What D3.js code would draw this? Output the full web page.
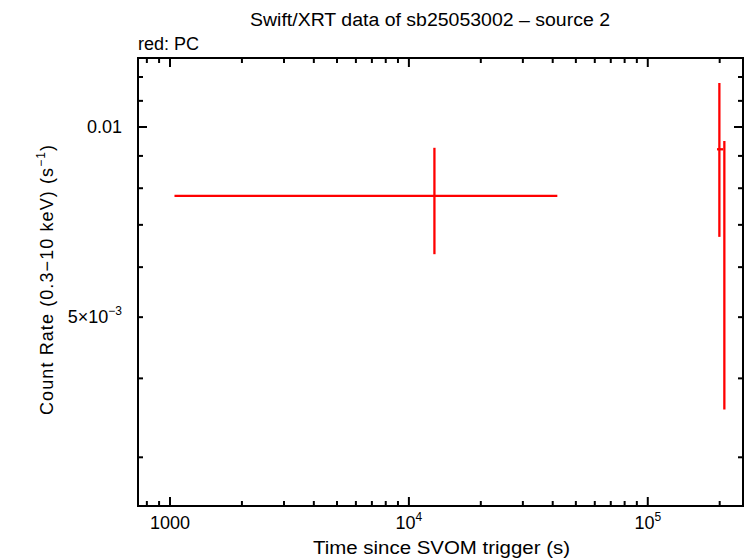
<!DOCTYPE html>
<html>
<head>
<meta charset="utf-8">
<title>Swift/XRT light curve</title>
<script src="https://cdnjs.cloudflare.com/ajax/libs/d3/7.8.5/d3.min.js"></script>
<style>
  body { margin: 0; background: white; }
  svg text { font-family: "Liberation Sans", Arial, sans-serif; fill: black; }
</style>
</head>
<body>
<div id="chart"></div>
<script>
// PC mode points: time (s), time range, count rate and its error range
const times   = [12790, 199400, 209200];
const timeLo  = [1044, 194900, 208600];
const timeHi  = [41820, 206600, 209800];
const rates   = [0.00778, 0.00922, 0.00653];
const rateLo  = [0.00629, 0.00670, 0.00357];
const rateHi  = [0.00927, 0.01174, 0.00950];

const xMajor = [1000, 10000, 100000];
const xMajorLabels = ["1000", "10^4", "10^5"];
const yMajor = [0.01];
const yLabels = [0.01, 0.005];
const yLabelText = ["0.01", "5×10^−3"];

const W = 746, H = 558;
const margin = {top: 58, right: 3, bottom: 52, left: 138};
const pw = W - margin.left - margin.right;
const ph = H - margin.top - margin.bottom;
const fs = 18, sup = 12;

const svg = d3.select("#chart").append("svg")
    .attr("width", W).attr("height", H);

const x = d3.scaleLog().domain([734.5, 250400]).range([0, pw]);
const y = d3.scaleLog().domain([0.002512, 0.01286]).range([ph, 0]);

const g = svg.append("g").attr("transform", `translate(${margin.left},${margin.top})`);

// minor tick values
const xMinor = [];
for (let dec = 100; dec <= 100000; dec *= 10)
  for (let k = 2; k <= 9; k++) {
    const v = k * dec;
    if (v > x.domain()[0] && v < x.domain()[1]) xMinor.push(v);
  }
const yMinor = [];
for (let k = 3; k <= 12; k++) {
  const v = k * 0.001;
  if (v !== 0.01 && v > y.domain()[0] && v < y.domain()[1]) yMinor.push(v);
}

const major = 9, minor = 5;
const tk = g.append("g").attr("stroke", "black").attr("stroke-width", 2);
xMajor.concat(xMinor).forEach(v => {
  const len = xMajor.includes(v) ? major : minor;
  const px = x(v);
  tk.append("line").attr("x1", px).attr("x2", px).attr("y1", ph).attr("y2", ph - len);
  tk.append("line").attr("x1", px).attr("x2", px).attr("y1", 0).attr("y2", len);
});
yMajor.concat(yMinor).forEach(v => {
  const len = yMajor.includes(v) ? major : minor;
  const py = y(v);
  tk.append("line").attr("x1", 0).attr("x2", len).attr("y1", py).attr("y2", py);
  tk.append("line").attr("x1", pw).attr("x2", pw - len).attr("y1", py).attr("y2", py);
});

// frame
g.append("rect").attr("width", pw).attr("height", ph)
  .attr("fill", "none").attr("stroke", "black").attr("stroke-width", 2);

// tick labels
function addPow(sel, text) {
  const parts = text.split("^");
  sel.text(parts[0]);
  if (parts.length > 1)
    sel.append("tspan").attr("dy", -8).attr("font-size", sup).text(parts[1]);
}
xMajor.forEach((v, i) => {
  const t = g.append("text").attr("x", x(v)).attr("y", ph + 23)
    .attr("text-anchor", "middle").attr("font-size", fs);
  addPow(t, xMajorLabels[i]);
});
yLabels.forEach((v, i) => {
  const t = g.append("text").attr("x", -16).attr("y", y(v) + 6)
    .attr("text-anchor", "end").attr("font-size", fs);
  addPow(t, yLabelText[i]);
});

// data error bars
const dg = g.append("g").attr("stroke", "#ff0000").attr("stroke-width", 2.3);
times.forEach((t, i) => {
  dg.append("line").attr("x1", x(timeLo[i])).attr("x2", x(timeHi[i]))
    .attr("y1", y(rates[i])).attr("y2", y(rates[i]));
  dg.append("line").attr("x1", x(t)).attr("x2", x(t))
    .attr("y1", y(rateLo[i])).attr("y2", y(rateHi[i]));
});

// titles
svg.append("text").attr("x", 250).attr("y", 26)
  .attr("font-size", fs).attr("textLength", 360).attr("lengthAdjust", "spacingAndGlyphs")
  .text("Swift/XRT data of sb25053002 – source 2");
svg.append("text").attr("x", 138).attr("y", 50).attr("font-size", fs).text("red: PC");
svg.append("text").attr("x", 313).attr("y", 554)
  .attr("font-size", fs).attr("textLength", 257).attr("lengthAdjust", "spacingAndGlyphs")
  .text("Time since SVOM trigger (s)");
const yl = svg.append("text").attr("transform", `translate(53,415) rotate(-90)`)
  .attr("font-size", fs).attr("letter-spacing", 1.1);
yl.append("tspan").text("Count Rate (0.3−10 keV) (s");
yl.append("tspan").attr("dy", -8).attr("font-size", sup).text("−1");
yl.append("tspan").attr("dy", 8).text(")");
</script>
</body>
</html>
